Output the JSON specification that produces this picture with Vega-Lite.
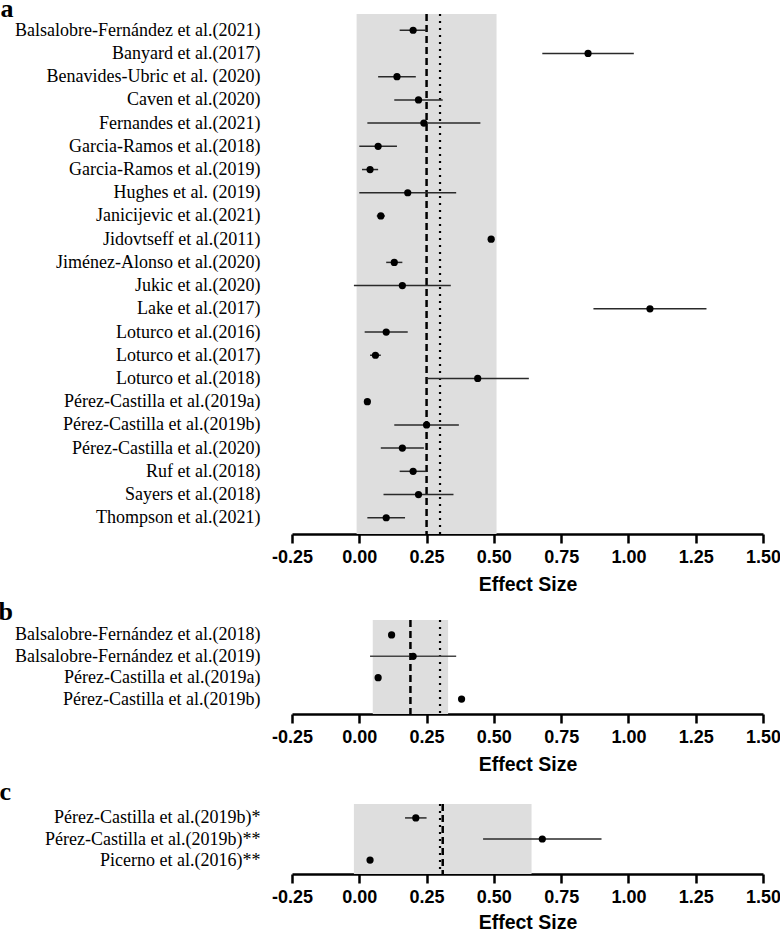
{
  "$schema": "https://vega.github.io/schema/vega-lite/v6.json",
  "background": "white",
  "padding": {"left": -2, "top": -4, "right": 0, "bottom": 0},
  "spacing": 5,
  "datasets": {
    "a": [
      {"study": "Balsalobre-Fernández et al.(2021)", "es": 0.20, "lo": 0.15, "hi": 0.25},
      {"study": "Banyard et al.(2017)", "es": 0.85, "lo": 0.68, "hi": 1.02},
      {"study": "Benavides-Ubric et al. (2020)", "es": 0.14, "lo": 0.07, "hi": 0.21},
      {"study": "Caven et al.(2020)", "es": 0.22, "lo": 0.13, "hi": 0.31},
      {"study": "Fernandes et al.(2021)", "es": 0.24, "lo": 0.03, "hi": 0.45},
      {"study": "Garcia-Ramos et al.(2018)", "es": 0.07, "lo": 0.0, "hi": 0.14},
      {"study": "Garcia-Ramos et al.(2019)", "es": 0.04, "lo": 0.01, "hi": 0.07},
      {"study": "Hughes et al. (2019)", "es": 0.18, "lo": 0.0, "hi": 0.36},
      {"study": "Janicijevic et al.(2021)", "es": 0.08, "lo": 0.065, "hi": 0.095},
      {"study": "Jidovtseff et al.(2011)", "es": 0.49, "lo": 0.49, "hi": 0.49},
      {"study": "Jiménez-Alonso et al.(2020)", "es": 0.13, "lo": 0.10, "hi": 0.16},
      {"study": "Jukic et al.(2020)", "es": 0.16, "lo": -0.02, "hi": 0.34},
      {"study": "Lake et al.(2017)", "es": 1.08, "lo": 0.87, "hi": 1.29},
      {"study": "Loturco et al.(2016)", "es": 0.10, "lo": 0.02, "hi": 0.18},
      {"study": "Loturco et al.(2017)", "es": 0.06, "lo": 0.04, "hi": 0.08},
      {"study": "Loturco et al.(2018)", "es": 0.44, "lo": 0.25, "hi": 0.63},
      {"study": "Pérez-Castilla et al.(2019a)", "es": 0.03, "lo": 0.03, "hi": 0.03},
      {"study": "Pérez-Castilla et al.(2019b)", "es": 0.25, "lo": 0.13, "hi": 0.37},
      {"study": "Pérez-Castilla et al.(2020)", "es": 0.16, "lo": 0.08, "hi": 0.24},
      {"study": "Ruf et al.(2018)", "es": 0.20, "lo": 0.15, "hi": 0.25},
      {"study": "Sayers et al.(2018)", "es": 0.22, "lo": 0.09, "hi": 0.35},
      {"study": "Thompson et al.(2021)", "es": 0.10, "lo": 0.03, "hi": 0.17}
    ],
    "b": [
      {"study": "Balsalobre-Fernández et al.(2018)", "es": 0.12, "lo": 0.12, "hi": 0.12},
      {"study": "Balsalobre-Fernández et al.(2019)", "es": 0.20, "lo": 0.04, "hi": 0.36},
      {"study": "Pérez-Castilla et al.(2019a)", "es": 0.07, "lo": 0.06, "hi": 0.08},
      {"study": "Pérez-Castilla et al.(2019b)", "es": 0.38, "lo": 0.37, "hi": 0.39}
    ],
    "c": [
      {"study": "Pérez-Castilla et al.(2019b)*", "es": 0.21, "lo": 0.17, "hi": 0.25},
      {"study": "Pérez-Castilla et al.(2019b)**", "es": 0.68, "lo": 0.46, "hi": 0.90},
      {"study": "Picerno et al.(2016)**", "es": 0.04, "lo": 0.04, "hi": 0.04}
    ],
    "sa": [{"pooled": 0.25, "lo": -0.01, "hi": 0.51, "ref": 0.30}],
    "sb": [{"pooled": 0.19, "lo": 0.05, "hi": 0.33, "ref": 0.30}],
    "sc": [{"pooled": 0.31, "lo": -0.02, "hi": 0.64, "ref": 0.30}]
  },
  "config": {
    "view": {"stroke": null},
    "title": {"font": "Liberation Serif", "fontSize": 26, "fontWeight": "bold", "anchor": "start", "frame": "bounds", "baseline": "alphabetic", "color": "black"},
    "axisX": {"domainColor": "black", "domainWidth": 2.5, "tickColor": "black", "tickWidth": 2.5, "tickSize": 9, "labelFont": "Liberation Sans", "labelFontWeight": "bold", "labelFontSize": 18, "labelColor": "black", "labelPadding": 5, "labelFlush": false, "grid": false, "titleFont": "Liberation Sans", "titleFontSize": 19.5, "titleFontWeight": "bold", "titleColor": "black", "titlePadding": 9},
    "axisY": {"domain": false, "ticks": false, "tickSize": 0, "labelFont": "Liberation Serif", "labelFontSize": 18, "labelColor": "black", "labelPadding": 32, "labelLimit": 0, "grid": false}
  },
  "vconcat": [
    {
      "width": 471, "height": 520,
      "title": {"text": "a", "dx": -14, "offset": -9.5},
      "layer": [
        {"data": {"name": "sa"}, "mark": {"type": "rect", "color": "#dedede"},
         "encoding": {"x": {"field": "lo", "type": "quantitative", "scale": {"domain": [-0.25, 1.5], "nice": false, "zero": false}, "axis": {"values": [-0.25, 0, 0.25, 0.5, 0.75, 1, 1.25, 1.5], "labelExpr": "datum.value < 0 ? '-' + format(-datum.value, '.2f') : format(datum.value, '.2f')"}, "title": "Effect Size"}, "x2": {"field": "hi"}}},
        {"data": {"name": "sa"}, "mark": {"type": "rule", "color": "black", "strokeWidth": 2.5, "strokeDash": [7, 4]},
         "encoding": {"x": {"field": "pooled", "type": "quantitative", "title": "Effect Size"}}},
        {"data": {"name": "sa"}, "mark": {"type": "rule", "color": "black", "strokeWidth": 2.2, "strokeDash": [2, 5]},
         "encoding": {"x": {"field": "ref", "type": "quantitative", "title": "Effect Size"}}},
        {"data": {"name": "a"}, "mark": {"type": "rule", "color": "#2a2a2a", "strokeWidth": 1.5},
         "encoding": {"y": {"field": "study", "type": "nominal", "sort": null, "scale": {"type": "point", "padding": 0.7}, "title": null}, "x": {"field": "lo", "type": "quantitative", "title": "Effect Size"}, "x2": {"field": "hi"}}},
        {"data": {"name": "a"}, "mark": {"type": "circle", "color": "black", "size": 52, "opacity": 1},
         "encoding": {"y": {"field": "study", "type": "nominal", "sort": null, "title": null}, "x": {"field": "es", "type": "quantitative", "title": "Effect Size"}}}
      ]
    },
    {
      "width": 471, "height": 94,
      "title": {"text": "b", "dx": -16, "offset": -6.5},
      "layer": [
        {"data": {"name": "sb"}, "mark": {"type": "rect", "color": "#dedede"},
         "encoding": {"x": {"field": "lo", "type": "quantitative", "scale": {"domain": [-0.25, 1.5], "nice": false, "zero": false}, "axis": {"values": [-0.25, 0, 0.25, 0.5, 0.75, 1, 1.25, 1.5], "labelExpr": "datum.value < 0 ? '-' + format(-datum.value, '.2f') : format(datum.value, '.2f')"}, "title": "Effect Size"}, "x2": {"field": "hi"}}},
        {"data": {"name": "sb"}, "mark": {"type": "rule", "color": "black", "strokeWidth": 2.5, "strokeDash": [7, 4]},
         "encoding": {"x": {"field": "pooled", "type": "quantitative", "title": "Effect Size"}}},
        {"data": {"name": "sb"}, "mark": {"type": "rule", "color": "black", "strokeWidth": 2.2, "strokeDash": [2, 5]},
         "encoding": {"x": {"field": "ref", "type": "quantitative", "title": "Effect Size"}}},
        {"data": {"name": "b"}, "mark": {"type": "rule", "color": "#444444", "strokeWidth": 1.5},
         "encoding": {"y": {"field": "study", "type": "nominal", "sort": null, "scale": {"type": "point", "padding": 0.7}, "title": null}, "x": {"field": "lo", "type": "quantitative", "title": "Effect Size"}, "x2": {"field": "hi"}}},
        {"data": {"name": "b"}, "mark": {"type": "circle", "color": "black", "size": 52, "opacity": 1},
         "encoding": {"y": {"field": "study", "type": "nominal", "sort": null, "title": null}, "x": {"field": "es", "type": "quantitative", "title": "Effect Size"}}}
      ]
    },
    {
      "width": 471, "height": 70,
      "title": {"text": "c", "dx": -45, "offset": -2.5},
      "layer": [
        {"data": {"name": "sc"}, "mark": {"type": "rect", "color": "#dedede"},
         "encoding": {"x": {"field": "lo", "type": "quantitative", "scale": {"domain": [-0.25, 1.5], "nice": false, "zero": false}, "axis": {"values": [-0.25, 0, 0.25, 0.5, 0.75, 1, 1.25, 1.5], "labelExpr": "datum.value < 0 ? '-' + format(-datum.value, '.2f') : format(datum.value, '.2f')", "titlePadding": 7}, "title": "Effect Size"}, "x2": {"field": "hi"}}},
        {"data": {"name": "sc"}, "mark": {"type": "rule", "color": "black", "strokeWidth": 2.5, "strokeDash": [7, 4]},
         "encoding": {"x": {"field": "pooled", "type": "quantitative", "title": "Effect Size"}}},
        {"data": {"name": "sc"}, "mark": {"type": "rule", "color": "black", "strokeWidth": 2.2, "strokeDash": [2, 5]},
         "encoding": {"x": {"field": "ref", "type": "quantitative", "title": "Effect Size"}}},
        {"data": {"name": "c"}, "mark": {"type": "rule", "color": "#2a2a2a", "strokeWidth": 1.5},
         "encoding": {"y": {"field": "study", "type": "nominal", "sort": null, "scale": {"type": "point", "padding": 0.66}, "title": null}, "x": {"field": "lo", "type": "quantitative", "title": "Effect Size"}, "x2": {"field": "hi"}}},
        {"data": {"name": "c"}, "mark": {"type": "circle", "color": "black", "size": 52, "opacity": 1},
         "encoding": {"y": {"field": "study", "type": "nominal", "sort": null, "title": null}, "x": {"field": "es", "type": "quantitative", "title": "Effect Size"}}}
      ]
    }
  ]
}
